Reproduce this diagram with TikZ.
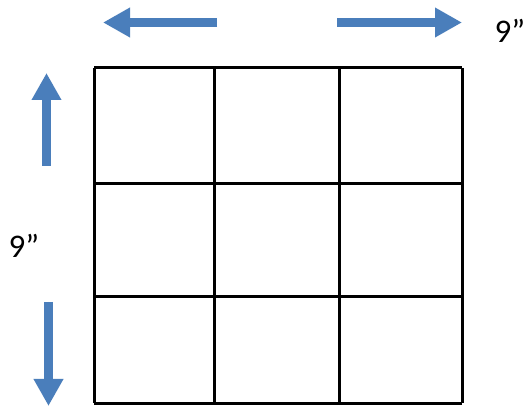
\documentclass[tikz,border=0pt]{standalone}
\usepackage{fontspec}
\setmainfont{Carlito}
\usetikzlibrary{arrows.meta, positioning}

\definecolor{arrowblue}{RGB}{74,126,187}

\begin{document}
\begin{tikzpicture}[x=1pt, y=-1pt, >={Triangle[length=27pt, width=28pt]}]
  % Define styles
  \tikzset{bigarrow/.style={draw=arrowblue, fill=arrowblue, line width=9pt, ->}}
  \tikzset{gridline/.style={draw=black, line width=3pt}}
  \tikzset{dimlabel/.style={font=\fontsize{33}{40}\selectfont, inner sep=0pt}}
  \useasboundingbox (0,0) rectangle (528,406);

  % Grid
  \foreach \x in {94,214,339,462}
    \draw [gridline] (\x,68) -- (\x,403);
  \foreach \y in {68,184,297,403}
    \draw [gridline] (94,\y) -- (462,\y);

  % Place coordinates
  \coordinate (lefttail) at (217,22.5);
  \coordinate (lefttip) at (103,22.5);
  \coordinate (righttail) at (337,22.5);
  \coordinate (righttip) at (462,22.5);
  \coordinate (uptail) at (46.5,166);
  \coordinate (uptip) at (46.5,73);
  \coordinate (downtail) at (48.5,302);
  \coordinate (downtip) at (48.5,406);

  % Labels
  \node [dimlabel] (widthlabel) at (510,31) {9”};
  \node [dimlabel] (heightlabel) at (24,246) {9”};

  % Draw arrows
  \draw [bigarrow] (lefttail) -- (lefttip);
  \draw [bigarrow] (righttail) -- (righttip);
  \draw [bigarrow] (uptail) -- (uptip);
  \draw [bigarrow] (downtail) -- (downtip);
\end{tikzpicture}
\end{document}
